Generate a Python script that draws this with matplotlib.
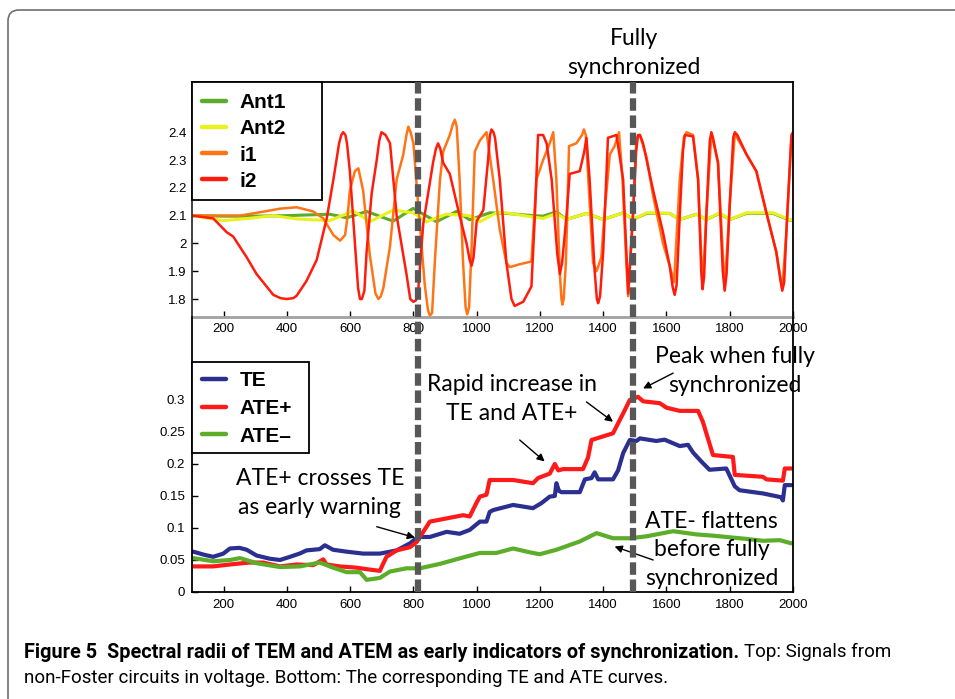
import matplotlib
matplotlib.use("Agg")
import matplotlib.pyplot as plt
from matplotlib import font_manager
from matplotlib.patches import FancyBboxPatch, Rectangle
from matplotlib.transforms import IdentityTransform

# ---------------- data ----------------
# top panel: voltage signals of the non-Foster circuits
ant1_x = [100, 200, 300, 400, 536, 589, 652, 736, 799, 873, 936, 978, 1041, 1094, 1178, 1210,
          1252, 1284, 1347, 1400, 1463, 1494, 1537, 1610, 1642, 1695, 1726, 1768, 1800, 1853,
          1937, 1989, 2000]
ant1_v = [2.10, 2.098, 2.098, 2.10, 2.105, 2.092, 2.115, 2.08, 2.126, 2.078, 2.115, 2.085, 2.11,
          2.108, 2.10, 2.098, 2.114, 2.086, 2.108, 2.086, 2.11, 2.086, 2.108, 2.108, 2.086, 2.105,
          2.086, 2.108, 2.086, 2.108, 2.108, 2.084, 2.084]

ant2_x = [100, 199, 280, 357, 431, 536, 610, 662, 736, 799, 841, 904, 978, 1010, 1062, 1094, 1178,
          1210, 1252, 1284, 1347, 1400, 1463, 1494, 1537, 1610, 1642, 1695, 1726, 1768, 1800, 1853,
          1937, 1989, 2000]
ant2_v = [2.10, 2.082, 2.09, 2.10, 2.088, 2.082, 2.117, 2.078, 2.12, 2.11, 2.078, 2.105, 2.10,
          2.078, 2.11, 2.11, 2.095, 2.09, 2.108, 2.086, 2.108, 2.086, 2.11, 2.086, 2.11, 2.108,
          2.086, 2.105, 2.086, 2.11, 2.086, 2.11, 2.11, 2.086, 2.086]

i1_x = [100, 252, 325, 378, 431, 483, 515, 547, 568, 584, 592, 599, 615, 626, 641, 662, 680, 689,
        697, 705, 726, 747, 768, 778, 784, 791, 800, 815, 836, 846, 852, 859, 868, 884, 894, 915,
        925, 931, 937, 946, 957, 965, 970, 976, 984, 994, 1010, 1031, 1052, 1073, 1094, 1105, 1136,
        1173, 1189, 1210, 1231, 1242, 1252, 1263, 1268, 1271, 1275, 1282, 1292, 1315, 1333, 1339,
        1345, 1352, 1368, 1379, 1394, 1405, 1421, 1436, 1450, 1461, 1473, 1479, 1494, 1505, 1516,
        1537, 1558, 1589, 1610, 1624, 1642, 1655, 1663, 1684, 1700, 1714, 1726, 1742, 1763, 1784,
        1800, 1816, 1853, 1884, 1916, 1947, 1966, 1979, 1995]
i1_v = [2.10, 2.10, 2.114, 2.125, 2.13, 2.115, 2.09, 2.03, 2.01, 2.03, 2.10, 2.19, 2.26, 2.27,
        2.19, 1.96, 1.82, 1.80, 1.81, 1.84, 1.99, 2.23, 2.32, 2.39, 2.42, 2.40, 2.36, 2.14, 1.85,
        1.76, 1.74, 1.75, 1.94, 2.23, 2.33, 2.39, 2.43, 2.445, 2.42, 2.23, 1.93, 1.77, 1.745, 1.77,
        1.99, 2.33, 2.37, 2.40, 2.23, 2.05, 1.93, 1.915, 1.925, 1.935, 2.23, 2.30, 2.36, 2.40,
        2.23, 1.89, 1.80, 1.78, 1.80, 1.93, 2.35, 2.36, 2.39, 2.41, 2.39, 2.25, 1.93, 1.90, 1.95,
        2.12, 2.32, 2.35, 2.40, 2.23, 1.93, 1.81, 2.10, 2.38, 2.39, 2.31, 2.17, 2.00, 1.92, 1.86,
        2.23, 2.38, 2.40, 2.39, 2.23, 1.84, 2.10, 2.395, 2.29, 1.835, 2.14, 2.395, 2.32, 2.26,
        2.11, 1.97, 1.835, 2.04, 2.38]

i2_x = [100, 167, 210, 230, 273, 304, 357, 380, 399, 420, 431, 462, 494, 526, 547, 565, 572, 578,
        585, 590, 599, 615, 625, 631, 637, 645, 652, 668, 684, 692, 699, 712, 726, 747, 778, 790,
        800, 808, 815, 831, 862, 871, 878, 885, 894, 915, 946, 968, 978, 984, 990, 1000, 1021, 1036,
        1042, 1047, 1053, 1058, 1073, 1094, 1110, 1120, 1147, 1173, 1184, 1194, 1210, 1221, 1237,
        1255, 1263, 1270, 1284, 1294, 1326, 1340, 1347, 1357, 1373, 1380, 1384, 1390, 1400, 1415,
        1442, 1463, 1479, 1494, 1504, 1510, 1516, 1526, 1558, 1589, 1610, 1620, 1626, 1632, 1642,
        1652, 1658, 1684, 1700, 1710, 1714, 1719, 1726, 1737, 1742, 1747, 1763, 1778, 1784, 1790,
        1800, 1811, 1816, 1824, 1853, 1884, 1916, 1947, 1960, 1966, 1972, 1979, 1995, 2000]
i2_v = [2.10, 2.09, 2.04, 2.025, 1.95, 1.89, 1.815, 1.803, 1.80, 1.803, 1.812, 1.865, 1.94, 2.09,
        2.23, 2.36, 2.39, 2.40, 2.39, 2.36, 2.26, 2.00, 1.84, 1.80, 1.80, 1.83, 1.97, 2.18, 2.30,
        2.37, 2.40, 2.39, 2.36, 2.10, 1.89, 1.80, 1.79, 1.795, 1.83, 2.07, 2.29, 2.34, 2.36, 2.34,
        2.29, 2.25, 2.10, 2.00, 1.94, 1.92, 1.95, 2.08, 2.12, 2.30, 2.39, 2.41, 2.40, 2.38, 2.23,
        1.93, 1.80, 1.775, 1.79, 1.845, 2.10, 2.39, 2.39, 2.36, 2.23, 1.96, 1.89, 1.93, 2.10, 2.25,
        2.26, 2.33, 2.38, 2.23, 1.90, 1.80, 1.785, 1.81, 1.97, 2.38, 2.39, 2.23, 1.82, 2.10, 2.33,
        2.39, 2.39, 2.36, 2.19, 2.04, 1.92, 1.84, 1.815, 1.85, 2.10, 2.33, 2.39, 2.385, 2.23, 1.90,
        1.835, 1.88, 2.10, 2.37, 2.40, 2.38, 2.29, 1.90, 1.83, 1.89, 2.14, 2.38, 2.40, 2.39, 2.32,
        2.26, 2.11, 1.97, 1.87, 1.83, 1.86, 2.04, 2.39, 2.40]

# bottom panel: spectral radii
te_x = [104, 140, 167, 199, 220, 250, 273, 304, 346, 378, 410, 440, 462, 504, 520, 546, 589, 641,
        694, 747, 789, 815, 852, 905, 946, 978, 1010, 1031, 1041, 1052, 1115, 1178, 1205, 1231,
        1247, 1252, 1260, 1268, 1326, 1342, 1363, 1373, 1384, 1431, 1447, 1463, 1484, 1505, 1516,
        1568, 1594, 1642, 1668, 1684, 1710, 1736, 1789, 1816, 1831, 1905, 1963, 1968, 1974, 1995]
te_v = [0.063, 0.058, 0.055, 0.060, 0.068, 0.069, 0.066, 0.057, 0.052, 0.050, 0.055, 0.060, 0.065,
        0.067, 0.073, 0.066, 0.063, 0.060, 0.060, 0.065, 0.076, 0.086, 0.086, 0.094, 0.091, 0.097,
        0.110, 0.110, 0.125, 0.128, 0.136, 0.131, 0.139, 0.149, 0.150, 0.170, 0.158, 0.156, 0.156,
        0.176, 0.178, 0.187, 0.176, 0.176, 0.190, 0.217, 0.2375, 0.236, 0.240, 0.236, 0.238,
        0.228, 0.230, 0.218, 0.204, 0.191, 0.193, 0.165, 0.159, 0.154, 0.148, 0.143, 0.167, 0.167]

ate_pos_x = [104, 167, 220, 280, 325, 378, 431, 483, 515, 525, 567, 620, 662, 694, 705, 715, 747,
             789, 810, 831, 852, 905, 957, 978, 1000, 1010, 1031, 1041, 1115, 1178, 1194, 1231,
             1247, 1258, 1273, 1336, 1352, 1363, 1431, 1463, 1484, 1510, 1526, 1579, 1600, 1642,
             1700, 1715, 1747, 1810, 1816, 1905, 1916, 1968, 1974, 1995]
ate_pos_v = [0.040, 0.040, 0.043, 0.046, 0.046, 0.040, 0.043, 0.042, 0.051, 0.043, 0.040, 0.038,
             0.035, 0.033, 0.045, 0.055, 0.065, 0.070, 0.078, 0.094, 0.110, 0.115, 0.120, 0.118,
             0.140, 0.149, 0.152, 0.175, 0.175, 0.170, 0.178, 0.185, 0.200, 0.190, 0.192, 0.192,
             0.210, 0.2375, 0.248, 0.279, 0.300, 0.305, 0.298, 0.295, 0.288, 0.283, 0.283, 0.266,
             0.214, 0.211, 0.183, 0.180, 0.176, 0.174, 0.193, 0.193]

ate_neg_x = [104, 167, 220, 252, 304, 378, 441, 504, 546, 589, 631, 652, 694, 726, 778, 820, 884,
             957, 1010, 1062, 1115, 1168, 1199, 1252, 1326, 1379, 1431, 1484, 1537, 1621, 1694,
             1747, 1852, 1905, 1958, 1995]
ate_neg_v = [0.053, 0.048, 0.050, 0.053, 0.045, 0.039, 0.040, 0.046, 0.038, 0.031, 0.031, 0.019,
             0.022, 0.032, 0.037, 0.037, 0.044, 0.054, 0.061, 0.061, 0.068, 0.062, 0.059, 0.066,
             0.079, 0.092, 0.084, 0.084, 0.087, 0.095, 0.090, 0.088, 0.083, 0.080, 0.081, 0.076]

sync_marks = [815, 1495]

x_ticks = [200, 400, 600, 800, 1000, 1200, 1400, 1600, 1800, 2000]
top_y_ticks = [1.8, 1.9, 2.0, 2.1, 2.2, 2.3, 2.4]
top_y_labels = ["1.8", "1.9", "2", "2.1", "2.2", "2.3", "2.4"]
bot_y_ticks = [0, 0.05, 0.1, 0.15, 0.2, 0.25, 0.3]
bot_y_labels = ["0", "0.05", "0.1", "0.15", "0.2", "0.25", "0.3"]

# ---------------- fonts ----------------
installed = {f.name for f in font_manager.fontManager.ttflist}
SANS = "Liberation Sans" if "Liberation Sans" in installed else "DejaVu Sans"
NOTE = "Lato" if "Lato" in installed else "DejaVu Sans"
CAPTION = "Liberation Sans Narrow" if "Liberation Sans Narrow" in installed else (
    "Roboto" if "Roboto" in installed else "DejaVu Sans")
plt.rcParams["font.family"] = [SANS, "DejaVu Sans"]

# ---------------- figure ----------------
W, H = 955, 699
fig = plt.figure(figsize=(W / 100, H / 100), dpi=100)
fig.patch.set_facecolor("white")

# rounded frame around the figure panel
frame = FancyBboxPatch((8, -30), 1100, H - 10 + 30,
                       boxstyle="round,pad=0,rounding_size=11",
                       transform=IdentityTransform(), facecolor="none",
                       edgecolor="#6e6e6e", linewidth=1.2, zorder=0)
fig.add_artist(frame)


def fx(px):
    return px / W


def fy(py):
    return 1 - py / H


left, right = 192, 793
ax1 = fig.add_axes([fx(left), fy(317), fx(right) - fx(left), fy(82) - fy(317)])
ax2 = fig.add_axes([fx(left), fy(592), fx(right) - fx(left), fy(317) - fy(592)])
ax2.patch.set_visible(False)
ax1.set_zorder(1)
ax2.set_zorder(2)

line_kw = dict(solid_joinstyle="round", solid_capstyle="round")

# ---- top panel ----
ax1.plot(ant1_x, ant1_v, color="#5bab2d", lw=2.2, label="Ant1", **line_kw)
ax1.plot(ant2_x, ant2_v, color="#e9f21f", lw=2.2, label="Ant2", **line_kw)
ax1.plot(i1_x, i1_v, color="#ff7414", lw=1.8, label="i1", **line_kw)
ax1.plot(i2_x, i2_v, color="#ff1c0c", lw=1.8, label="i2", **line_kw)
ax1.set_xlim(100, 2000)
ax1.set_ylim(1.7353, 2.5806)
ax1.set_xticks(x_ticks)
ax1.set_xticklabels([str(t) for t in x_ticks])
ax1.set_yticks(top_y_ticks)
ax1.set_yticklabels(top_y_labels)
for s in ["top", "right"]:
    ax1.spines[s].set_color("black")
    ax1.spines[s].set_linewidth(1.3)
ax1.spines["left"].set_color("#333333")
ax1.spines["left"].set_linewidth(1.3)
ax1.spines["bottom"].set_color("#a0a0a0")
ax1.spines["bottom"].set_linewidth(2.0)
ax1.tick_params(direction="in", length=4, width=1, labelsize=9.5, pad=4)

# ---- bottom panel ----
ax2.plot(te_x, te_v, color="#2b2f90", lw=3.0, label="TE", **line_kw)
ax2.plot(ate_pos_x, ate_pos_v, color="#ff1a1a", lw=3.0, label="ATE+", **line_kw)
ax2.plot(ate_neg_x, ate_neg_v, color="#5cae2a", lw=3.0, label="ATE\u2013", **line_kw)
ax2.set_xlim(100, 2000)
ax2.set_ylim(0, (592 - 317) / 640)
ax2.set_xticks(x_ticks)
ax2.set_xticklabels([str(t) for t in x_ticks])
ax2.set_yticks(bot_y_ticks)
ax2.set_yticklabels(bot_y_labels)
ax2.spines["top"].set_visible(False)
for s in ["left", "right", "bottom"]:
    ax2.spines[s].set_color("black")
    ax2.spines[s].set_linewidth(1.3)
ax2.tick_params(direction="in", length=4, width=1, labelsize=9.5, pad=5)


# ---- legends: frameless entries over a boxed white panel ----
def boxed_legend(ax, x0, y0, x1, y1, spacing):
    box = Rectangle((x0, H - y1), x1 - x0, y1 - y0, transform=IdentityTransform(),
                    facecolor="white", edgecolor="black", linewidth=1.3,
                    zorder=4.8, clip_on=False)
    ax.add_artist(box)
    leg = ax.legend(loc="center left", bbox_to_anchor=(fx(x0 + 10), fy((y0 + y1) / 2 + 1)),
                    bbox_transform=fig.transFigure, borderaxespad=0, borderpad=0,
                    frameon=False, prop={"family": SANS, "weight": "bold", "size": 15},
                    handlelength=1.15, handletextpad=0.65, labelspacing=spacing)
    leg.set_zorder(4.9)
    for ln in leg.get_lines():
        ln.set_linewidth(3.2)
    return leg


boxed_legend(ax1, 192, 82, 322, 200, 0.34)
boxed_legend(ax2, 192, 362, 309, 453, 0.42)

# synchronization markers through both panels
for ax in (ax1, ax2):
    for xm in sync_marks:
        ax.axvline(xm, color="#585656", lw=4.5, dashes=(2.0, 0.75), zorder=5)

# ---- annotations ----
note_kw = dict(family=[NOTE, "DejaVu Sans"], fontsize=16.5, ha="center", va="center",
               linespacing=1.45, color="black", zorder=6)
arrow_kw = dict(arrowstyle="-|>", color="black", lw=1.0, mutation_scale=11,
                shrinkA=0, shrinkB=0)

fig.text(fx(634), fy(53), "Fully\nsynchronized", **note_kw)
ax2.text(504, 0.155, "ATE+ crosses TE\nas early warning", **note_kw)
ax2.text(1111, 0.302, "Rapid increase in\nTE and ATE+", **note_kw)
ax2.text(1816, 0.345, "Peak when fully\nsynchronized", clip_on=False, **note_kw)
ax2.text(1743, 0.066, "ATE- flattens\nbefore fully\nsynchronized", **note_kw)

ax2.annotate("", xy=(805, 0.085), xytext=(684, 0.102), arrowprops=arrow_kw)
ax2.annotate("", xy=(1215, 0.204), xytext=(1136, 0.2375), arrowprops=arrow_kw)
ax2.annotate("", xy=(1431, 0.266), xytext=(1347, 0.297), arrowprops=arrow_kw)
ax2.annotate("", xy=(1526, 0.318), xytext=(1621, 0.342), arrowprops=arrow_kw, annotation_clip=False)
ax2.annotate("", xy=(1436, 0.071), xytext=(1558, 0.05), arrowprops=arrow_kw)

# ---- caption ----
renderer = fig.canvas.get_renderer()
t_bold = fig.text(fx(24), fy(652), "Figure 5  Spectral radii of TEM and ATEM as early indicators of synchronization.",
                  family=[CAPTION, "DejaVu Sans"], fontweight="bold", fontsize=14.3,
                  ha="left", va="center")
bb = t_bold.get_window_extent(renderer=renderer)
fig.text((bb.x1 + 5) / W, fy(652), "Top: Signals from",
         family=[CAPTION, "DejaVu Sans"], fontsize=13.5, ha="left", va="center")
fig.text(fx(24), fy(678), "non-Foster circuits in voltage. Bottom: The corresponding TE and ATE curves.",
         family=[CAPTION, "DejaVu Sans"], fontsize=13.5, ha="left", va="center")

fig.savefig("out.png", dpi=100, facecolor="white")
